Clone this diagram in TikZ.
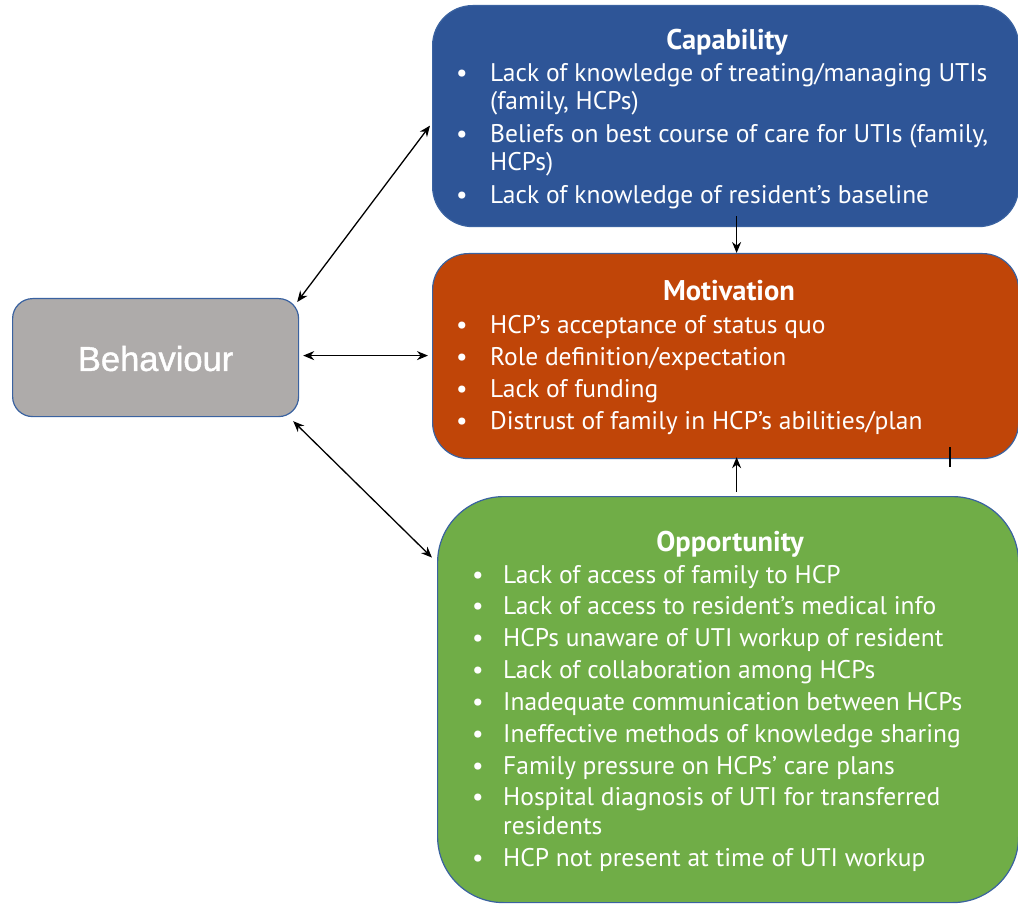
\documentclass[tikz,border=0pt]{standalone}
\usepackage{fontspec}
\setmainfont{PT Sans}
\newfontfamily\labelfont[FakeBold=1.2]{Liberation Sans}
\usetikzlibrary{arrows.meta,calc}
\definecolor{capblue}{HTML}{2E5597}
\definecolor{motorange}{HTML}{C04508}
\definecolor{oppgreen}{HTML}{70AD47}
\definecolor{behgrey}{HTML}{AEABAA}
\definecolor{edgeblue}{HTML}{3A62A0}
\begin{document}
\begin{tikzpicture}[x=1pt,y=-1pt,
  box/.style={draw=edgeblue,line width=1.2pt,anchor=north west,inner sep=0pt},
  title/.style={text=white,font=\fontsize{28.5}{32}\selectfont\bfseries,anchor=base},
  item/.style={text=white,font=\fontsize{25.5}{29}\selectfont,anchor=base west,inner sep=0pt},
  dot/.style={text=white,font=\fontsize{25.5}{29}\selectfont,anchor=base,inner sep=0pt},
  arr/.style={draw=black,line width=1.3pt,-{Stealth[length=11pt,width=9pt]}},
  dbl/.style={draw=black,line width=1.3pt,{Stealth[length=11pt,width=9pt]}-{Stealth[length=11pt,width=9pt]}}]
\useasboundingbox (0,0) rectangle (1018,904);

% the four boxes
\node[box,fill=capblue,rounded corners=40pt,minimum width=586pt,minimum height=221pt] (cap) at (432,5) {};
\node[box,fill=motorange,rounded corners=36pt,minimum width=586pt,minimum height=205pt] (mot) at (432,253) {};
\node[box,fill=oppgreen,rounded corners=66pt,minimum width=581pt,minimum height=406pt] (opp) at (437,496) {};
\node[box,fill=behgrey,rounded corners=20pt,minimum width=286pt,minimum height=118pt] (beh) at (12,298) {};

\node[text=white,font=\labelfont\fontsize{34.5}{38}\selectfont] (behtxt) at ([yshift=-1pt]beh.center) {Behaviour};

% Capability
\node[title] (capt) at (727,50) {Capability};
\node[dot] (cb1) at (462,82) {•};
\node[item] (c1) at (490,82) {Lack of knowledge of treating/managing UTIs};
\node[item] (c1b) at (490,110) {(family, HCPs)};
\node[dot] (cb2) at (462,143) {•};
\node[item] (c2) at (490,143) {Beliefs on best course of care for UTIs (family,};
\node[item] (c2b) at (490,171) {HCPs)};
\node[dot] (cb3) at (462,204) {•};
\node[item] (c3) at (490,204) {Lack of knowledge of resident’s baseline};

% Motivation
\node[title] (mott) at (729,301) {Motivation};
\node[dot] (mb1) at (462,333) {•};
\node[item] (m1) at (490,333) {HCP’s acceptance of status quo};
\node[dot] (mb2) at (462,365) {•};
\node[item] (m2) at (490,365) {Role definition/expectation};
\node[dot] (mb3) at (462,397) {•};
\node[item] (m3) at (490,397) {Lack of funding};
\node[dot] (mb4) at (462,429) {•};
\node[item] (m4) at (490,429) {Distrust of family in HCP’s abilities/plan};

% Opportunity
\node[title] (oppt) at (730,551) {Opportunity};
\foreach \n/\y/\t in {1/583/Lack of access of family to HCP,
                      2/614/Lack of access to resident’s medical info,
                      3/646/HCPs unaware of UTI workup of resident,
                      4/678/Lack of collaboration among HCPs,
                      5/710/Inadequate communication between HCPs,
                      6/742/Ineffective methods of knowledge sharing,
                      7/774/Family pressure on HCPs’ care plans,
                      8/805/Hospital diagnosis of UTI for transferred,
                      10/866/HCP not present at time of UTI workup}{
  \node[dot] (ob\n) at (478,\y) {•};
  \node[item] (o\n) at (503,\y) {\t};
}
\node[item] (o9) at (503,834) {residents};

% connectors
\draw[arr] ([xshift=11pt,yshift=11pt]cap.south) -- ([xshift=11pt]mot.north);
\draw[arr] ([xshift=8.5pt,yshift=4pt]opp.north) -- ([xshift=11pt,yshift=2pt]mot.south);
\draw[dbl] ([xshift=-2pt,yshift=-4pt]beh.north east) -- ([xshift=-2pt,yshift=-9.5pt]cap.west);
\draw[dbl] ([xshift=4pt,yshift=2pt]beh.east) -- ([xshift=-4pt,yshift=2pt]beh.east -| mot.west);
\draw[dbl] ([xshift=-6pt,yshift=-4pt]beh.south east) -- ([xshift=-5pt,yshift=142pt]opp.west);

% short stray stroke below the Motivation box
\draw[line width=1.2pt] (950,447) -- (950,467);
\end{tikzpicture}
\end{document}
